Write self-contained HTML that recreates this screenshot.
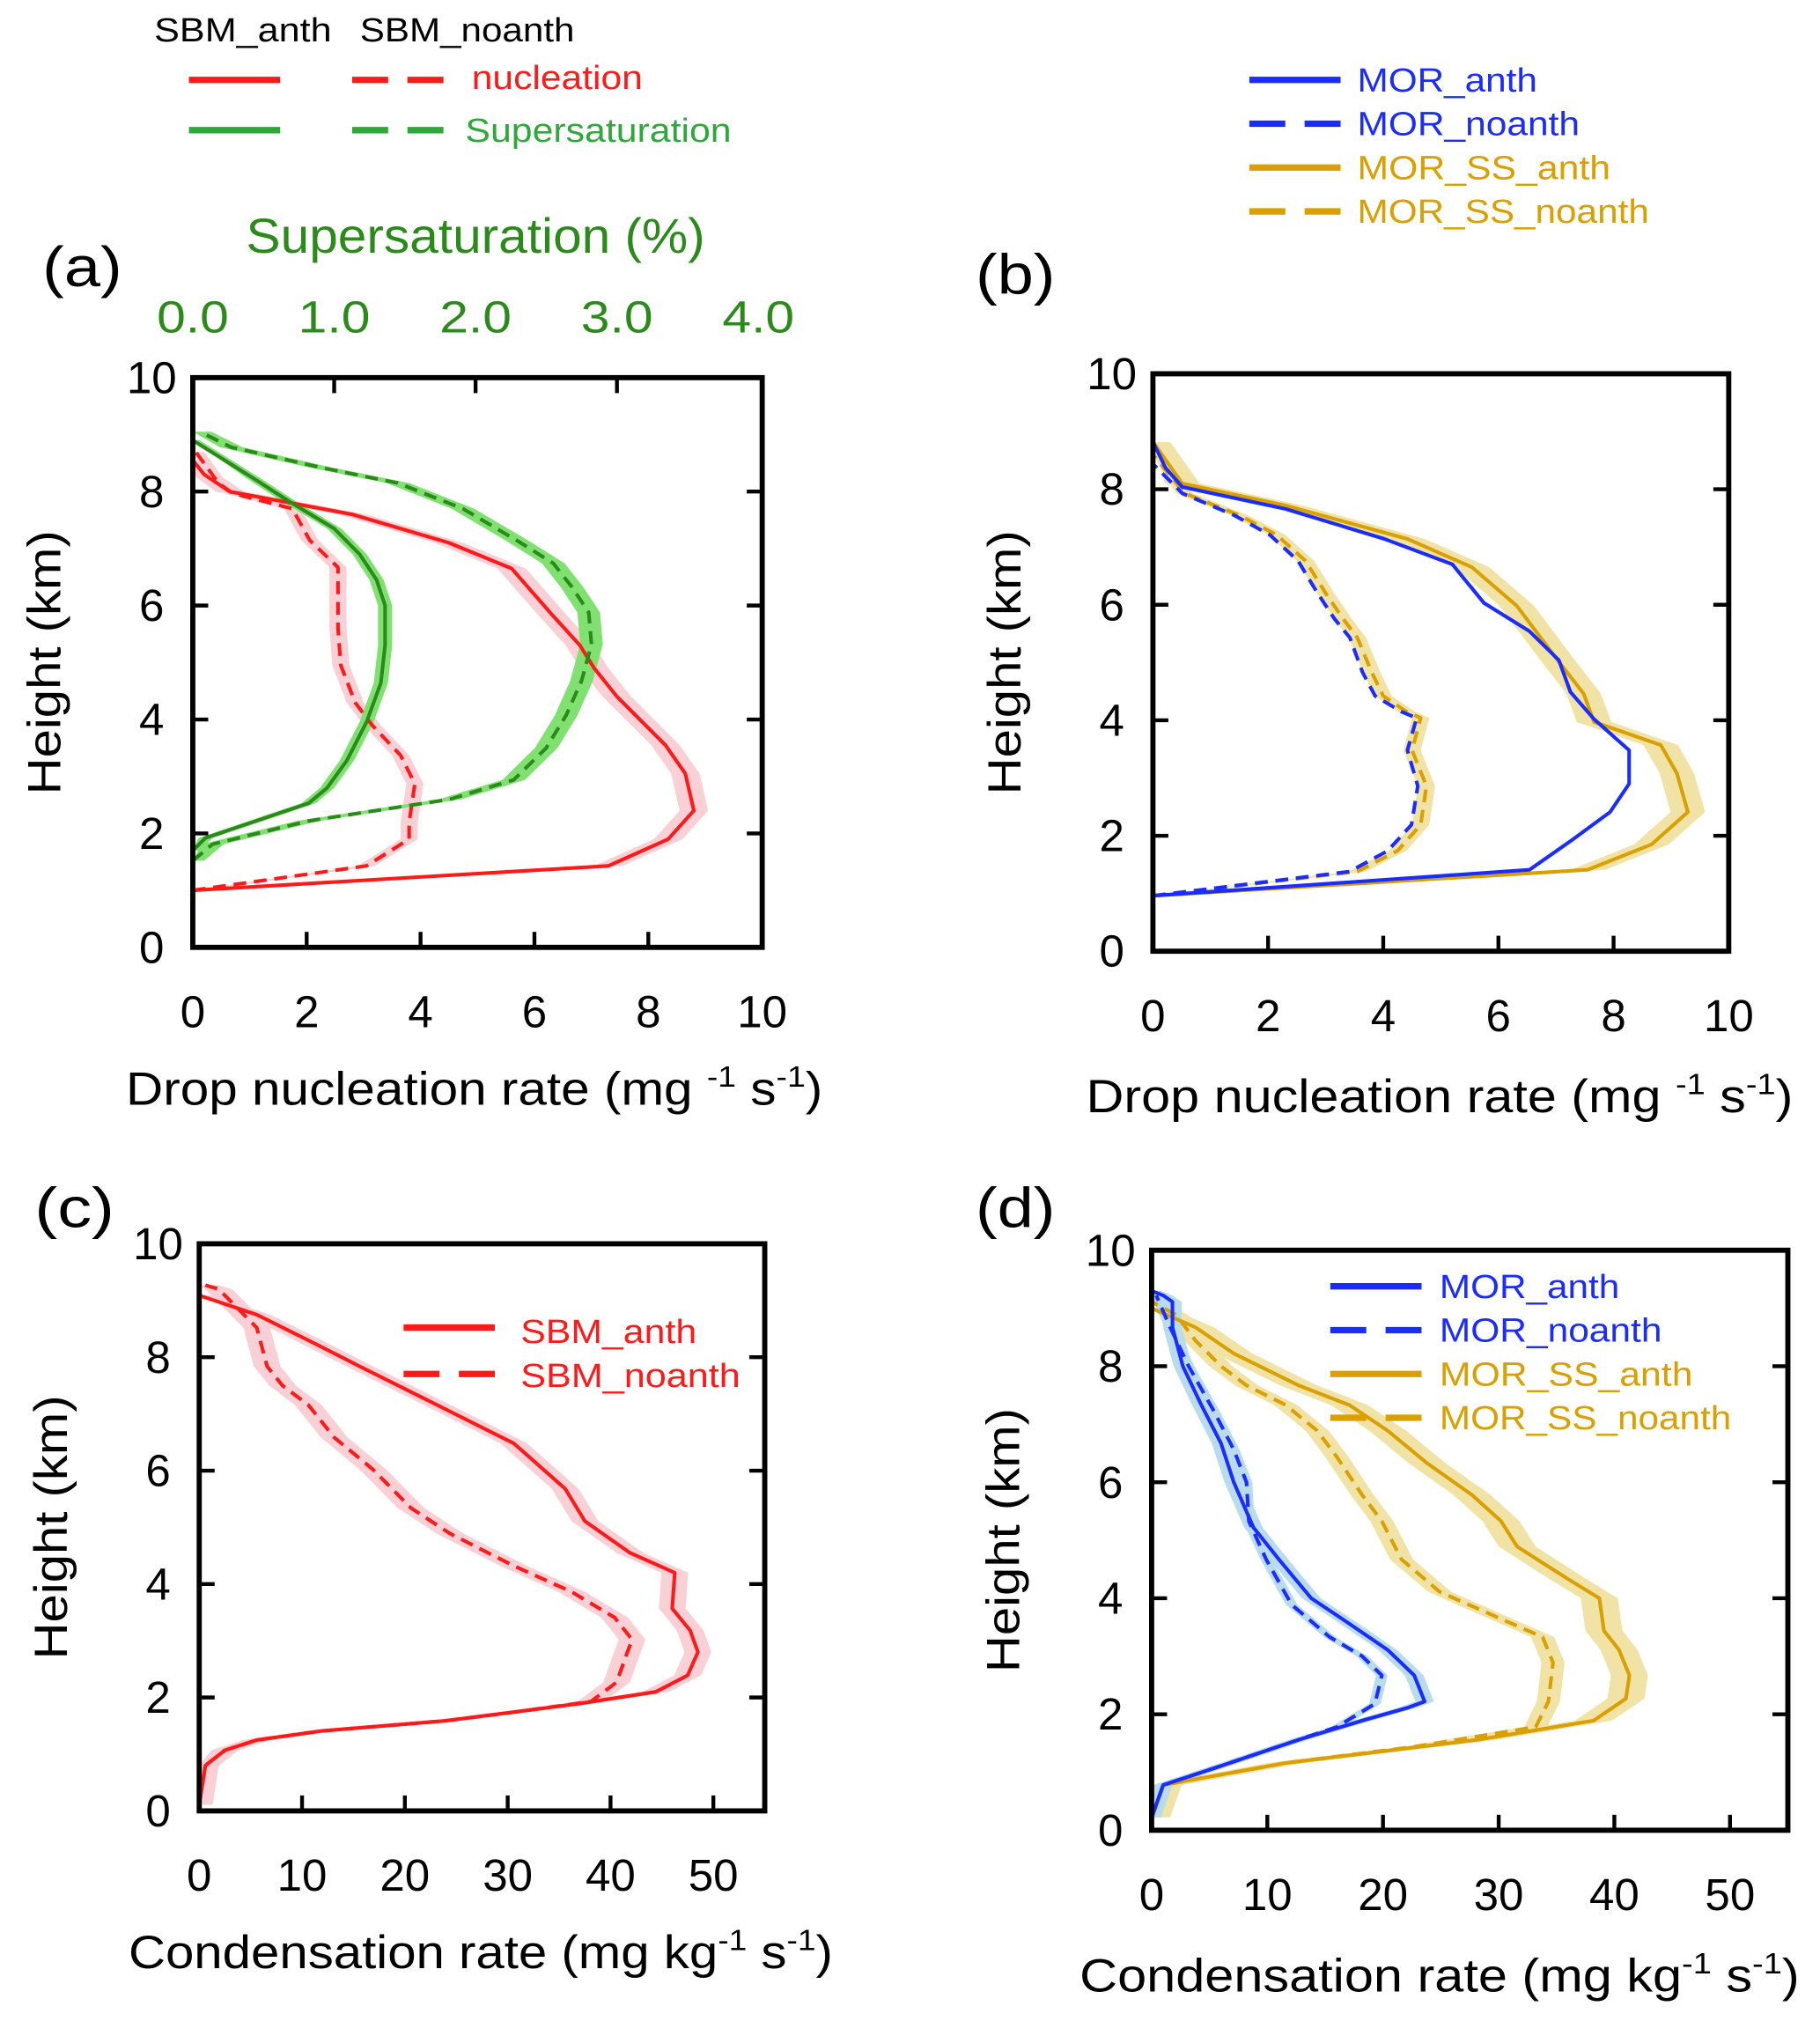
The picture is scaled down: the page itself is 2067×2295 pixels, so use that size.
<!DOCTYPE html>
<html><head><meta charset="utf-8"><style>
html,body{margin:0;padding:0;background:#fff}
svg{display:block;font-family:"Liberation Sans",Arial,sans-serif}
</style></head><body>
<svg id="fig" width="2067" height="2295" viewBox="0 0 1416 1568" preserveAspectRatio="none" xmlns="http://www.w3.org/2000/svg"></svg>
<script>
// ---------- Panel (a) data ----------
const aNucAnthH=[1.0,1.43,1.9,2.4,3.05,3.55,4.4,4.9,5.3,5.85,6.65,7.1,7.6,8.0,8.3,8.55];
const aNucAnthV=[0,7.3,8.35,8.8,8.65,8.3,7.45,7.05,6.8,6.3,5.6,4.5,2.8,0.65,0.2,0];
const aNucNoH=[1.0,1.43,1.9,2.2,2.87,3.37,3.9,4.3,4.95,5.6,6.67,7.15,7.7,7.97,8.15,8.7];
const aNucNoV=[0,3.05,3.8,3.8,3.9,3.65,3.15,2.85,2.6,2.55,2.55,2.05,1.75,0.7,0.45,0.05];
const aSSAnthH=[1.7,1.92,2.53,2.8,3.28,3.96,4.64,5.3,6.0,6.45,6.9,7.35,7.83,8.2,8.9];
const aSSAnthV=[0,0.09,0.82,0.95,1.09,1.23,1.33,1.36,1.36,1.30,1.18,1.0,0.68,0.45,0];
const aSSNoH=[1.52,1.81,2.22,2.6,2.94,3.5,4.07,4.68,5.32,5.88,6.33,6.74,7.13,7.7,8.15,8.42,8.78,9.05];
const aSSNoV=[0,0.14,0.82,1.82,2.27,2.5,2.64,2.75,2.82,2.8,2.68,2.55,2.3,1.91,1.45,0.91,0.27,0.05];
// ---------- Panel (b) data ----------
const bAnthH=[0.96,1.41,1.92,2.41,2.9,3.48,4.02,4.49,5.04,5.54,6.03,6.7,7.14,7.66,8.04,8.37,8.82];
const bAnthV=[0,6.54,7.27,7.94,8.27,8.27,7.66,7.25,7.05,6.54,5.75,5.2,4.02,2.3,0.51,0.22,0];
const bNoH=[0.96,1.38,1.74,2.19,2.86,3.48,4.04,4.15,4.42,4.83,5.43,5.76,6.2,6.76,7.21,7.55,7.93,8.44];
const bNoV=[0,3.42,4.08,4.49,4.6,4.42,4.58,4.31,3.86,3.64,3.42,3.15,2.86,2.52,2.03,1.41,0.51,0];
const bSSAnthH=[0.96,1.41,1.85,2.41,3.08,3.57,3.97,4.46,5.09,5.98,6.65,7.14,7.72,8.1,8.82];
const bSSAnthV=[0,7.55,8.66,9.29,9.1,8.82,7.66,7.48,6.99,6.32,5.54,4.42,2.3,0.51,0];
const bSSNoH=[0.96,1.38,1.74,2.19,2.86,3.48,4.04,4.15,4.42,4.83,5.43,5.76,6.2,6.76,7.21,7.55,7.93,8.6];
const bSSNoV=[0,3.55,4.25,4.65,4.75,4.5,4.65,4.4,4.0,3.8,3.55,3.3,3.0,2.65,2.15,1.5,0.55,0];
// ---------- Panel (c) data ----------
const cAnthH=[0.11,0.8,1.07,1.25,1.41,1.59,1.89,2.1,2.39,2.8,3.18,3.57,4.2,4.55,5.11,5.68,6.48,7.27,7.84,8.3,8.75,9.09];
const cAnthV=[0,0.6,2.5,5.6,11.9,24,36.9,44.4,47.5,48.5,47.75,46,46.25,41.9,37.5,35.6,30.6,21.9,15.6,10.6,5.6,0];
const cNoH=[0.11,0.8,1.07,1.25,1.41,1.59,1.75,1.93,2.27,2.73,3.02,3.41,3.86,4.32,4.89,5.34,6.02,6.59,7.16,7.5,7.84,8.52,9.2,9.27];
const cNoV=[0,0.6,2.5,5.6,11.9,24,31,38.1,40.6,41.5,42.1,40.4,36.25,30.6,24.4,20.6,16.9,13.1,10.6,8.1,6.6,5.6,1.9,0.6];
// ---------- Panel (d) data ----------
const dAnthH=[0.22,0.78,1.11,1.56,1.89,2.11,2.22,2.67,3.11,3.56,4.0,4.67,5.22,6.0,6.67,7.33,8.0,8.67,9.11,9.22,9.3];
const dAnthV=[0,1,6,12.7,18.2,22.1,23.6,22.7,20.4,17.1,13.8,11,8.8,7.1,6,4.3,2.7,1.8,1.8,1,0];
const dNoH=[0.22,0.78,1.11,1.56,1.78,2.18,2.67,3.0,3.33,3.89,4.67,5.33,6.0,6.56,7.22,8.0,8.67,9.22];
const dNoV=[0,1,6,12.7,16,19.3,19.9,18.2,15.4,12.1,9.9,8.4,8.2,7.1,5.4,3.2,1.6,0.4];
const dSSAnthH=[0.22,0.78,1.16,1.56,1.89,2.27,2.67,3.11,3.44,4.0,4.33,4.89,5.33,5.78,6.33,6.89,7.33,7.67,8.22,8.67,9.0];
const dSSAnthV=[0,1,11.6,28.2,38.2,41,41.3,40.4,39.1,38.7,36,31.6,30.2,27.7,23.8,20.4,17.1,12.7,7.1,3.8,0];
const dSSNoH=[0.22,0.78,1.16,1.44,1.78,2.22,2.89,3.33,3.67,4.11,4.67,5.33,5.78,6.44,6.89,7.33,7.67,8.0,8.44,8.89,9.11];
const dSSNoV=[0,1,11.6,22.7,33.2,34.3,34.7,33.8,29.9,24.9,21.6,19.9,18.2,16,14.3,11.6,8.2,6,3.8,2.1,0];
// tick labels
const yTicks=[0,2,4,6,8,10];
const abXTicks=[0,2,4,6,8,10];
const cdXTicks=[0,10,20,30,40,50];
const ssTicks=[0,1,2,3,4];

const NS="http://www.w3.org/2000/svg";
const svg=document.getElementById('fig');
function mk(tag,at,parent){const e=document.createElementNS(NS,tag);for(const k in at)e.setAttribute(k,at[k]);(parent||svg).appendChild(e);return e;}
function txt(s,x,y,size,fill,anchor,parent,len){const t=mk('text',{x:x,y:y,'font-size':size,fill:fill||'#000','text-anchor':anchor||'middle'},parent);t.textContent=s;
  if(len){t.setAttribute('textLength',len);t.setAttribute('lengthAdjust','spacingAndGlyphs');}return t;}

function panel(name,L,T,R,B,xmax,xticks){
  const p={L,T,R,B,xmax,
    sx:v=>L+(R-L)*v/xmax, sy:h=>B-(B-T)*h/10};
  const g=mk('g',{});
  
  
  p.g=g;
  p.bandG=mk('g',{},g); p.lineG=mk('g',{},g);
  const ax=mk('g',{},g);
  
  
  mk('rect',{x:L,y:T,width:R-L,height:B-T,fill:'none',stroke:'#000','stroke-width':4},ax);
  yTicks.forEach(h=>{const y=p.sy(h);
    if(h>0&&h<10){mk('line',{x1:L,x2:L+12,y1:y,y2:y,stroke:'#000','stroke-width':3},ax);mk('line',{x1:R,x2:R-12,y1:y,y2:y,stroke:'#000','stroke-width':3},ax);}
    const t=txt(String(h),L-32,y+12,35,'#000','middle',ax);
    });
  xticks.forEach(v=>{const x=p.sx(v);
    if(v>0&&x<R-2){mk('line',{x1:x,x2:x,y1:B,y2:B-12,stroke:'#000','stroke-width':3},ax);}
    const t=txt(String(v),x,B+62,35,'#000','middle',ax);
    });
  const yl=txt('Height (km)',0,0,36,'#000','middle',ax,205);
  yl.setAttribute('transform','translate('+(L-103)+','+((T+B)/2)+') rotate(-90)');
  
  return p;
}
function series(p,name,H,V,color,dashed,band,bandColor,scale){
  const sc=scale||1;
  if(band){
    const left=H.map((h,i)=>[p.sx(Math.max(0,V[i]*sc-band*sc)),p.sy(h)]);
    const right=H.map((h,i)=>[p.sx(V[i]*sc+band*sc),p.sy(h)]).reverse();
    const pg=mk('polygon',{points:left.concat(right).map(a=>a.join(',')).join(' '),fill:bandColor,stroke:'none'},p.bandG);
    
    
  }
  const pts=H.map((h,i)=>p.sx(V[i]*sc)+','+p.sy(h)).join(' ');
  const pl=mk('polyline',{points:pts,fill:'none',stroke:color,'stroke-width':2.8,'stroke-linejoin':'round'},p.lineG);
  if(dashed)pl.setAttribute('stroke-dasharray','10,6');
  
  
}
function xTitle(x,y,pre,len,name){
  const t=mk('text',{x:x,y:y,'font-size':36,fill:'#000',textLength:len,lengthAdjust:'spacingAndGlyphs'});
  t.innerHTML=pre+'<tspan dy="-14" font-size="23">-1</tspan><tspan dy="14"> s</tspan><tspan dy="-14" font-size="23">-1</tspan><tspan dy="14">)</tspan>';
  
}
const RED='#ff1a1a',GREEN='#2a8a1a',BLUE='#1a2cff',GOLD='#d9a000';
const PINK='#f9d0d6',LGREEN='#80e070',LBLUE='#b8dcec',LGOLD='#f1e3a6';

// Panel a
const pa=panel('panel-a',150,293,593,735,10,abXTicks);
const ssScale=(590-150)/4/((593-150)/10);
series(pa,'sbm-anth-nucleation',aNucAnthH,aNucAnthV,RED,false,0.25,PINK);
series(pa,'sbm-noanth-nucleation',aNucNoH,aNucNoV,RED,true,0.15,PINK);
series(pa,'sbm-anth-supersaturation',aSSAnthH,aSSAnthV,GREEN,false,0.05,LGREEN,ssScale);
series(pa,'sbm-noanth-supersaturation',aSSNoH,aSSNoV,GREEN,true,0.08,LGREEN,ssScale);
ssTicks.forEach(v=>{const x=150+110*v;
  if(v>0&&v<4)mk('line',{x1:x,x2:x,y1:293,y2:305,stroke:'#000','stroke-width':3});
  const t=txt(v.toFixed(1),x,258,35,GREEN,'middle',null,56);
  });
let t=txt('Supersaturation (%)',370,196,38,GREEN,'middle',null,357);
t=txt('(a)',64,222,44,'#000','middle',null,62);
xTitle(98,857,'Drop nucleation rate (mg ',542,'x-axis-title-a');

// Panel b
const pb=panel('panel-b',897,290,1345,738,10,abXTicks);
series(pb,'mor-ss-anth',bSSAnthH,bSSAnthV,GOLD,false,0.3,LGOLD);
series(pb,'mor-ss-noanth',bSSNoH,bSSNoV,GOLD,true,0.15,LGOLD);
series(pb,'mor-anth',bAnthH,bAnthV,BLUE,false,0,null);
series(pb,'mor-noanth',bNoH,bNoV,BLUE,true,0,null);
t=txt('(b)',790,228,44,'#000','middle',null,62);
xTitle(845,863,'Drop nucleation rate (mg ',550,'x-axis-title-b');

// Panel c
const pc=panel('panel-c',155,965,595,1405,55,cdXTicks);
series(pc,'sbm-anth-condensation',cAnthH,cAnthV,RED,false,1.3,PINK);
series(pc,'sbm-noanth-condensation',cNoH,cNoV,RED,true,1.3,PINK);
t=txt('(c)',58,952,44,'#000','middle',null,62);
xTitle(100,1527,'Condensation rate (mg kg',548,'x-axis-title-c');

// Panel d
const pd=panel('panel-d',896,970,1391,1420,55,cdXTicks);
series(pd,'mor-ss-anth-condensation',dSSAnthH,dSSAnthV,GOLD,false,1.6,LGOLD);
series(pd,'mor-ss-noanth-condensation',dSSNoH,dSSNoV,GOLD,true,1.0,LGOLD);
series(pd,'mor-anth-condensation',dAnthH,dAnthV,BLUE,false,0.8,LBLUE);
series(pd,'mor-noanth-condensation',dNoH,dNoV,BLUE,true,0.5,LBLUE);
t=txt('(d)',790,952,44,'#000','middle',null,62);
xTitle(840,1545,'Condensation rate (mg kg',560,'x-axis-title-d');

// Legends
function legLine(x1,x2,y,color,dashed,name){const l=mk('line',{x1:x1,x2:x2,y1:y,y2:y,stroke:color,'stroke-width':5});if(dashed)l.setAttribute('stroke-dasharray','28,15');
  
  }
function legText(s,x,y,color,len,name){const e=txt(s,x,y,26,color,'start',null,len);
  
  }
legText('SBM_anth',120,32,'#000',138,'legend-header-anth');
legText('SBM_noanth',280,32,'#000',167,'legend-header-noanth');
legLine(147,218,62,RED,false,'legend-line-anth-nucleation');
legLine(274,345,62,RED,true,'legend-line-noanth-nucleation');
legText('nucleation',367,69,RED,133,'legend-label-nucleation');
legLine(147,218,101,'#2ea83a',false,'legend-line-anth-ss');
legLine(274,345,101,'#2ea83a',true,'legend-line-noanth-ss');
legText('Supersaturation',362,110,'#2ea83a',207,'legend-label-supersaturation');

const lb=[['MOR_anth',BLUE,false,62,140],['MOR_noanth',BLUE,true,96,173],['MOR_SS_anth',GOLD,false,130,197],['MOR_SS_noanth',GOLD,true,164,227]];
lb.forEach(r=>{legLine(972,1043,r[3],r[1],r[2],'legend-line-'+r[0].toLowerCase());legText(r[0],1056,r[3]+9,r[1],r[4],'legend-label-'+r[0].toLowerCase());});
legLine(314,385,1030,RED,false,'legend-line-c-anth');legText('SBM_anth',405,1042,RED,137,'legend-label-c-anth');
legLine(314,385,1066,RED,true,'legend-line-c-noanth');legText('SBM_noanth',405,1076,RED,171,'legend-label-c-noanth');
const ld=[['MOR_anth',BLUE,false,998,140],['MOR_noanth',BLUE,true,1032,173],['MOR_SS_anth',GOLD,false,1066,197],['MOR_SS_noanth',GOLD,true,1100,227]];
ld.forEach(r=>{legLine(1035,1106,r[3],r[1],r[2],'legend-line-d-'+r[0].toLowerCase());legText(r[0],1120,r[3]+9,r[1],r[4],'legend-label-d-'+r[0].toLowerCase());});
</script>
</body></html>
